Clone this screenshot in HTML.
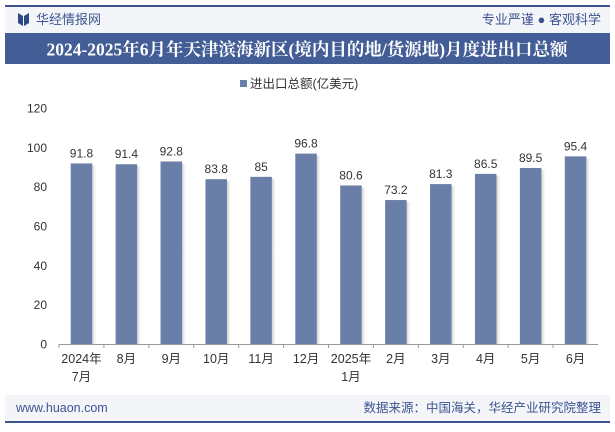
<!DOCTYPE html>
<html><head><meta charset="utf-8"><style>
body{margin:0;width:615px;height:427px;background:#fff;font-family:"Liberation Sans","Noto Sans CJK SC",sans-serif;overflow:hidden}
</style></head><body>
<svg width="615" height="427" xmlns="http://www.w3.org/2000/svg" style="font-family:'Liberation Sans','Noto Sans CJK SC',sans-serif">
<defs><linearGradient id="sh" x1="0" x2="1"><stop offset="0" stop-color="#999" stop-opacity="0.5"/><stop offset="1" stop-color="#fff" stop-opacity="0"/></linearGradient></defs>
<rect x="5" y="6" width="605" height="27" fill="#f3f5f9"/>
<rect x="5" y="5" width="605" height="2" fill="#3d5490"/>
<g><polygon points="18,13 23,16 23,26 18,23" fill="#2f4a86"/><polygon points="24,16 29,13 29,23 24,26" fill="#2f4a86"/></g>
<text x="36" y="24" font-size="13" fill="#3d5490">华经情报网</text>
<text x="601" y="24" font-size="13" fill="#3d5490" text-anchor="end">专业严谨 ● 客观科学</text>
<rect x="5" y="33" width="605" height="31" fill="#435d96"/>
<text x="307" y="55.5" font-size="17.5" font-weight="bold" fill="#fff" text-anchor="middle" font-family="'Liberation Serif','Noto Serif CJK SC',serif">2024-2025年6月年天津滨海新区(境内目的地/货源地)月度进出口总额</text>
<g><rect x="240" y="80" width="7" height="7" fill="#6a7fa8"/><text x="250" y="88" font-size="12.5" fill="#333">进出口总额(亿美元)</text></g>
<g id="chart"></g>
<rect x="5" y="395" width="605" height="27" fill="#f3f5f9"/>
<rect x="5" y="421" width="605" height="2" fill="#3d5490"/>
<text x="16" y="412" font-size="12.5" fill="#3d5490">www.huaon.com</text>
<text x="601" y="412" font-size="12.5" fill="#3d5490" text-anchor="end">数据来源：中国海关，华经产业研究院整理</text>
</svg>
<script>
const categories=[["2024年","7月"],["8月"],["9月"],["10月"],["11月"],["12月"],["2025年","1月"],["2月"],["3月"],["4月"],["5月"],["6月"]];
const values=[91.8,91.4,92.8,83.8,85,96.8,80.6,73.2,81.3,86.5,89.5,95.4];
const yTicks=[0,20,40,60,80,100,120];
const ns="http://www.w3.org/2000/svg",g=document.getElementById('chart');
const x0=59,x1=598,yb=344,yt=108,ymax=120;
const y=v=>yb-(v/ymax)*(yb-yt);
const bw=(x1-x0)/categories.length;
function mk(t,a,txt){const e=document.createElementNS(ns,t);for(const k in a)e.setAttribute(k,a[k]);if(txt!==undefined)e.textContent=txt;g.appendChild(e);return e;}
yTicks.forEach(t=>{const e=mk('text',{x:47,y:y(t)+4.5,'font-size':12,fill:'#333','text-anchor':'end'},t);

});
values.forEach((v,i)=>{const cx=x0+bw*(i+0.5),w=21.5;
const s=mk('rect',{x:cx+w/2,y:y(v)+2,width:5,height:yb-y(v)-2,fill:'url(#sh)'});


const b=mk('rect',{x:cx-w/2,y:y(v),width:w,height:yb-y(v),fill:'#6a7fa8'});


const l=mk('text',{x:cx,y:y(v)-6,'font-size':12,fill:'#333','text-anchor':'middle'},v);


categories[i].forEach((c,j)=>{const t=mk('text',{x:cx,y:yb+19+j*18,'font-size':12.5,fill:'#333','text-anchor':'middle'},c);

});
const tk=mk('line',{x1:x0+bw*i,x2:x0+bw*i,y1:yb,y2:yb+4,stroke:'#999'});

});
const ax=mk('line',{x1:x0,x2:x1,y1:yb+0.5,y2:yb+0.5,stroke:'#999'});


</script>
</body></html>
